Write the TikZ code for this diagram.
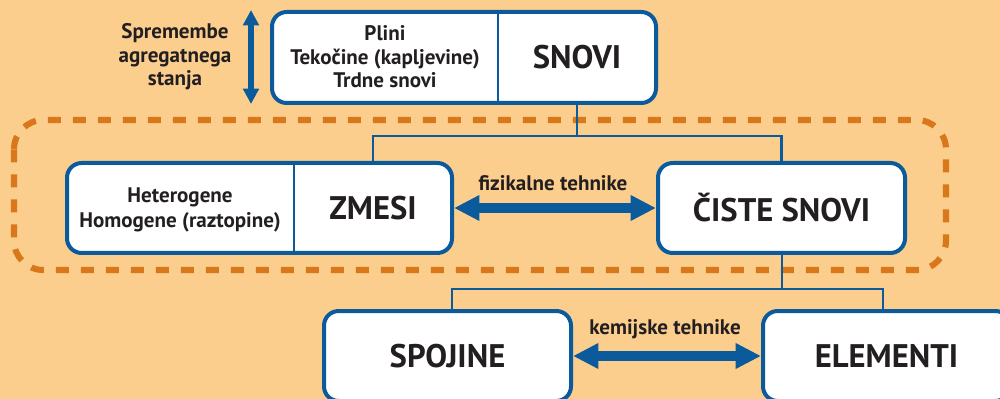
\documentclass[tikz,border=0pt]{standalone}
\usepackage{fontspec}
\setmainfont{PT Sans}
\usetikzlibrary{arrows.meta}
\definecolor{bg}{HTML}{FBCE8E}
\definecolor{blu}{HTML}{0A5A9C}
\definecolor{org}{HTML}{D9781A}
\definecolor{txt}{HTML}{231F20}
\tikzset{
  box/.style={draw=blu, line width=3pt, fill=white, rounded corners=11pt, inner sep=0pt},
  big/.style={font=\bfseries\fontsize{24.5}{28}\selectfont, text=txt, inner sep=0pt},
  small/.style={font=\bfseries\fontsize{15.8}{17.7}\selectfont, text=txt, align=center, inner sep=0pt},
  small2/.style={font=\bfseries\fontsize{15.8}{18.75}\selectfont, text=txt, align=center, inner sep=0pt},
  conn/.style={draw=blu, line width=1.6pt},
  divider/.style={draw=blu, line width=1.5pt},
  fat/.style={draw=blu, line width=7.5pt, {Triangle[length=19pt,width=18pt]}-{Triangle[length=19pt,width=18pt]}},
  thin arrow/.style={draw=blu, line width=5pt, {Triangle[length=11.5pt,width=11.5pt]}-{Triangle[length=11.5pt,width=11.5pt]}},
  group/.style={draw=org, line width=4.6pt, dash pattern=on 9.75pt off 9pt, rounded corners=22pt}
}
\begin{document}
\begin{tikzpicture}[x=0.75pt,y=-0.75pt]
\fill[bg] (0,0) rectangle (1000,399);
\useasboundingbox (0,0) rectangle (1000,399);

% dashed group
\draw[group] (14,120) rectangle (946,270);

% boxes
\node[box, minimum width=288pt, minimum height=68.25pt] (snovi) at (464,57.5) {};
\node[box, minimum width=288.75pt, minimum height=67.5pt] (zmesi) at (259.5,208) {};
\node[box, minimum width=185.25pt, minimum height=67.5pt] (ciste) at (781.5,208) {};
\node[box, minimum width=185.25pt, minimum height=67.5pt] (spojine) at (447.5,356) {};
\node[box, minimum width=185.25pt, minimum height=67.5pt] (elementi) at (886.5,356) {};

% dividers
\coordinate (d1) at (498,0);
\coordinate (d2) at (294,0);
\draw[divider] (snovi.north -| d1) -- (snovi.south -| d1);
\draw[divider] (zmesi.north -| d2) -- (zmesi.south -| d2);

% labels
\node[big] (snoviT) at (577,57.5) {SNOVI};
\node[small] (snoviL) at (385,57) {Plini\\Tekočine (kapljevine)\\Trdne snovi};
\node[big] (zmesiT) at (373,208) {ZMESI};
\node[small2] (zmesiL) at (180,209.5) {Heterogene\\Homogene (raztopine)};
\node[big] (cisteT) at (781.5,208) {ČISTE SNOVI};
\node[big] (spojineT) at (447.5,356) {SPOJINE};
\node[big] (elementiT) at (886.5,356) {ELEMENTI};
\node[small] (agr) at (175,57) {Spremembe\\agregatnega\\stanja};
\node[small] (fiz) at (553,183) {fizikalne tehnike};
\node[small] (kem) at (665,329) {kemijske tehnike};

% connectors
\coordinate (j1) at (577,136);
\coordinate (j2) at (782,289);
\coordinate (v1) at (452,0);
\coordinate (v2) at (883,0);
\draw[conn] (snovi.south -| j1) -- (j1);
\draw[conn] (zmesi.north -| zmesiT) |- (j1) -| (ciste.north);
\draw[conn] (ciste.south -| j2) -- (j2);
\draw[conn] (spojine.north -| v1) |- (j2) -| (elementi.north -| v2);

% arrows
\draw[fat] (zmesi.east) -- (ciste.west);
\draw[fat] (spojine.east) -- (elementi.west);
\coordinate (a1) at (251,10);
\coordinate (a2) at (251,104);
\draw[thin arrow] (a1) -- (a2);
\end{tikzpicture}
\end{document}
